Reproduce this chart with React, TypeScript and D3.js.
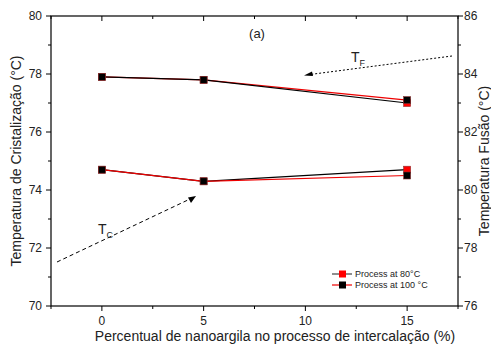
import React from "react";
import * as d3 from "d3";

const xValues = [0, 5, 15];
const tc80 = [74.7, 74.3, 74.7];
const tc100 = [74.7, 74.3, 74.5];
const tf80 = [83.9, 83.8, 83.0];
const tf100 = [83.9, 83.8, 83.1];
const xTicks = [0, 5, 10, 15];
const xMinor = [-2.5, 2.5, 7.5, 12.5, 17.5];
const leftTicks = [70, 72, 74, 76, 78, 80];
const leftMinor = [71, 73, 75, 77, 79];
const rightTicks = [76, 78, 80, 82, 84, 86];
const rightMinor = [77, 79, 81, 83, 85];
const legendLabels = ["Process at 80°C", "Process at 100 °C"];

const W = 491, H = 345;
const L = 51, R = 458, T = 16, B = 306;
const font = "'Liberation Sans', Arial, sans-serif";

export default function App() {
  const x = d3.scaleLinear().domain([-2.5, 17.5]).range([L, R]);
  const yL = d3.scaleLinear().domain([70, 80]).range([B, T]);
  const yR = d3.scaleLinear().domain([76, 86]).range([B, T]);
  const lineL = d3.line<number>().x((_, i) => x(xValues[i])).y((d) => yL(d));
  const lineR = d3.line<number>().x((_, i) => x(xValues[i])).y((d) => yR(d));
  const ms = 7;
  const markers = (vals: number[], sc: any, fill: string, key: string) =>
    vals.map((v, i) => (
      <rect key={key + i} x={x(xValues[i]) - ms / 2} y={sc(v) - ms / 2} width={ms} height={ms} fill={fill} stroke="#8a3030" strokeWidth={0.6} />
    ));
  return (
    <svg width={W} height={H} style={{ position: "absolute", left: 0, top: 0 }} fontFamily={font}>
      <rect x={0} y={0} width={W} height={H} fill="white" />
      <rect x={L} y={T} width={R - L} height={B - T} fill="none" stroke="black" strokeWidth={1.2} />
      {xTicks.map((t) => (
        <g key={"xt" + t}>
          <line x1={x(t)} x2={x(t)} y1={B} y2={B + 5} stroke="black" />
          <line x1={x(t)} x2={x(t)} y1={T} y2={T + 5} stroke="black" />
          <text x={x(t)} y={325} fontSize={12} textAnchor="middle" fill="#222">{t}</text>
        </g>
      ))}
      {xMinor.map((t) => (
        <g key={"xm" + t}>
          <line x1={x(t)} x2={x(t)} y1={B} y2={B + 3} stroke="black" />
          <line x1={x(t)} x2={x(t)} y1={T} y2={T + 3} stroke="black" />
        </g>
      ))}
      {leftTicks.map((t) => (
        <g key={"lt" + t}>
          <line x1={L - 5} x2={L} y1={yL(t)} y2={yL(t)} stroke="black" />
          <text x={L - 9} y={yL(t) + 4} fontSize={12} textAnchor="end" fill="#222">{t}</text>
        </g>
      ))}
      {leftMinor.map((t) => (
        <line key={"lm" + t} x1={L - 3} x2={L} y1={yL(t)} y2={yL(t)} stroke="black" />
      ))}
      {rightTicks.map((t) => (
        <g key={"rt" + t}>
          <line x1={R} x2={R + 5} y1={yR(t)} y2={yR(t)} stroke="black" />
          <text x={R + 6} y={yR(t) + 4} fontSize={12} textAnchor="start" fill="#222">{t}</text>
        </g>
      ))}
      {rightMinor.map((t) => (
        <line key={"rm" + t} x1={R} x2={R + 3} y1={yR(t)} y2={yR(t)} stroke="black" />
      ))}
      <text x={275} y={341} fontSize={14} textAnchor="middle" fill="#222">Percentual de nanoargila no processo de intercalação (%)</text>
      <text transform={`translate(21,${(T + B) / 2}) rotate(-90)`} fontSize={14} textAnchor="middle" fill="#222">Temperatura de Cristalização (°C)</text>
      <text transform={`translate(489,${(T + B) / 2}) rotate(-90)`} fontSize={14} textAnchor="middle" fill="#222">Temperatura Fusão (°C)</text>
      <path d={lineL(tc80) || ""} fill="none" stroke="black" strokeWidth={1.2} />
      <path d={lineR(tf100) || ""} fill="none" stroke="#ee0000" strokeWidth={1.2} />
      <path d={lineL(tc100) || ""} fill="none" stroke="#ee0000" strokeWidth={1.2} />
      <path d={lineR(tf80) || ""} fill="none" stroke="black" strokeWidth={1.2} />
      {markers(tc80, yL, "#ff0000", "a")}
      {markers(tf80, yR, "#ff0000", "b")}
      {markers(tc100, yL, "#000000", "c")}
      {markers(tf100, yR, "#000000", "d")}
      <text x={257} y={38} fontSize={13} textAnchor="middle" fill="#222">(a)</text>
      <line x1={452} x2={310} y1={56} y2={74.5} stroke="black" strokeWidth={1} strokeDasharray="2,2" />
      <path d="M304,75.5 L312,71.5 L313,76 Z" fill="black" />
      <text x={351} y={62} fontSize={14} fill="#222">T<tspan fontSize={9} dy={4}>F</tspan></text>
      <line x1={57} x2={190} y1={262} y2={199} stroke="black" strokeWidth={1} strokeDasharray="4,3" />
      <path d="M196,196 L188,197.5 L191,203 Z" fill="black" />
      <text x={98} y={234} fontSize={14} fill="#222">T<tspan fontSize={9} dy={4}>C</tspan></text>
      {legendLabels.map((lab, i) => {
        const cy = 274 + i * 11;
        return (
          <g key={lab}>
            <line x1={332} x2={352} y1={cy} y2={cy} stroke={i === 0 ? "#444" : "#ee0000"} strokeWidth={1.2} />
            <rect x={339} y={cy - 3.5} width={7} height={7} fill={i === 0 ? "#ff0000" : "#000"} />
            <text x={355} y={cy + 3} fontSize={9} fill="#222">{lab}</text>
          </g>
        );
      })}
    </svg>
  );
}
